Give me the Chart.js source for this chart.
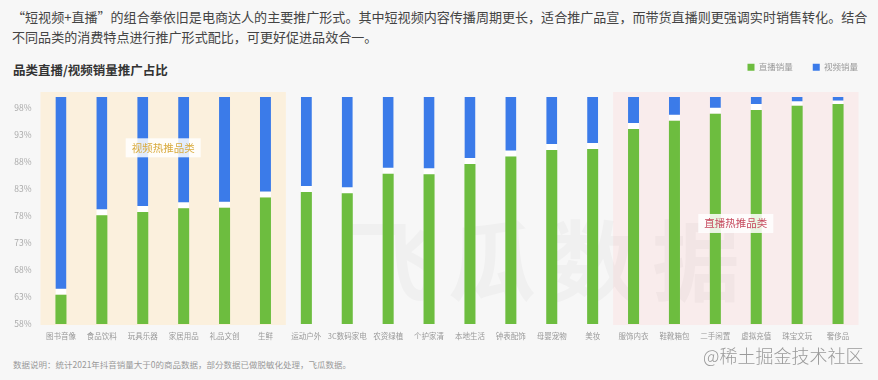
<!DOCTYPE html>
<html lang="zh">
<head>
<meta charset="utf-8">
<script src="https://cdn.jsdelivr.net/npm/chart.js@4/dist/chart.umd.min.js"></script>
<style>
  html, body { margin: 0; padding: 0; }
  body {
    width: 878px; height: 380px; overflow: hidden; position: relative;
    background: #f7f7f7;
    font-family: "Noto Sans CJK SC", "Noto Sans", sans-serif;
  }
  .intro {
    position: absolute; left: 12px; top: 7px; width: 860px;
    font-size: 13.05px; line-height: 20px; color: #444; white-space: nowrap;
  }
  .title {
    position: absolute; left: 13px; top: 62px;
    font-size: 12.5px; line-height: 16px; font-weight: bold; color: #333;
  }
  .note {
    position: absolute; left: 13px; top: 358px;
    font-size: 8.5px; line-height: 12px; color: #999;
  }
  .mark {
    position: absolute; left: 703px; top: 343px;
    font-size: 18px; line-height: 24px; color: #9a9a9a; font-weight: 300;
  }
  #wrap { position: absolute; left: 0; top: 43px; width: 878px; height: 306px; }
</style>
</head>
<body>
<div class="intro">“短视频+直播”的组合拳依旧是电商达人的主要推广形式。其中短视频内容传播周期更长，适合推广品宣，而带货直播则更强调实时销售转化。结合<br>不同品类的消费特点进行推广形式配比，可更好促进品效合一。</div>
<div class="title">品类直播/视频销量推广占比</div>
<div id="wrap"><canvas id="chart"></canvas></div>
<div class="note">数据说明：统计2021年抖音销量大于0的商品数据，部分数据已做脱敏化处理，飞瓜数据。</div>
<div class="mark">@稀土掘金技术社区</div>
<script>
// 数据
const categories = ['图书音像', '食品饮料', '玩具乐器', '家居用品', '礼品文创', '生鲜', '运动户外', '3C数码家电', '农资绿植', '个护家清',
    '本地生活', '钟表配饰', '母婴宠物', '美妆', '服饰内衣', '鞋靴箱包', '二手闲置', '虚拟充值', '珠宝文玩', '奢侈品'];
const liveShare = [63.4, 78.1, 78.7, 79.4, 79.5, 81.4, 82.4, 82.2, 85.8, 85.7, 87.6, 89.0, 90.2, 90.4, 94.1, 95.6, 96.9, 97.6, 98.4, 98.7];
const videoShare = [36.6, 21.9, 21.3, 20.6, 20.5, 18.6, 17.6, 17.8, 14.2, 14.3, 12.4, 11.0, 9.8, 9.6, 5.9, 4.4, 3.1, 2.4, 1.6, 1.3];
const yTicks = [58, 63, 68, 73, 78, 83, 88, 93, 98];
const videoHot = { from: '图书音像', to: '生鲜', label: '视频热推品类' };
const liveHot = { from: '服饰内衣', to: '奢侈品', label: '直播热推品类' };

Chart.defaults.font.family = '"Noto Sans CJK SC", "Noto Sans", sans-serif';

// 背景色块 + 水印
const bands = {
    id: 'bands',
    beforeDatasetsDraw(chart) {
        const { ctx, chartArea, scales: { x } } = chart;
        const half = (x.getPixelForValue(1) - x.getPixelForValue(0)) / 2;
        const fill = (band, color) => {
            const l = x.getPixelForValue(categories.indexOf(band.from)) - half;
            const r = x.getPixelForValue(categories.indexOf(band.to)) + half;
            ctx.fillStyle = color;
            ctx.fillRect(l, chartArea.top - 5, r - l, chartArea.bottom - chartArea.top + 6);
        };
        ctx.save();
        fill(videoHot, '#fbf0dd');
        fill(liveHot, '#f9ecec');
        // 飞瓜水印
        ctx.fillStyle = 'rgba(0,0,0,0.028)';
        ctx.font = 'bold 88px "Noto Sans CJK SC"';
        ctx.textBaseline = 'middle';
        ['飞', '瓜', '数', '据'].forEach((c, i) => ctx.fillText(c, 346 + i * 102, 218));
        ctx.restore();
    },
    afterDatasetsDraw(chart) {
        const { ctx, scales: { x, y } } = chart;
        const tag = (band, val, color) => {
            const cx = (x.getPixelForValue(categories.indexOf(band.from)) + x.getPixelForValue(categories.indexOf(band.to))) / 2;
            const cy = y.getPixelForValue(val);
            ctx.font = '10.5px "Noto Sans CJK SC"';
            const w = ctx.measureText(band.label).width + 12;
            ctx.fillStyle = 'rgba(255,255,255,0.85)';
            ctx.fillRect(cx - w / 2, cy - 9.5, w, 19);
            ctx.fillStyle = color;
            ctx.textAlign = 'center';
            ctx.textBaseline = 'middle';
            ctx.fillText(band.label, cx, cy);
        };
        ctx.save();
        tag(videoHot, 90.6, '#d9ab3f');
        tag(liveHot, 76.6, '#c64a5e');
        ctx.restore();
    }
};

// 图例下方留白
const legendGap = {
    id: 'legendGap',
    beforeInit(chart) {
        const fit = chart.legend.fit;
        chart.legend.fit = function () {
            fit.bind(chart.legend)();
            this.height += 15.5;
        };
    }
};

new Chart(document.getElementById('chart'), {
    type: 'bar',
    data: {
        labels: categories,
        datasets: [
            {
                label: '直播销量',
                data: liveShare,
                backgroundColor: '#6dbd3f',
                barPercentage: 0.27,
                categoryPercentage: 1
            },
            {
                label: '视频销量',
                data: videoShare,
                backgroundColor: '#3b7be9',
                borderColor: '#ffffff',
                borderWidth: { top: 0, right: 0, bottom: 6, left: 0 },
                borderSkipped: false,
                barPercentage: 0.27,
                categoryPercentage: 1
            }
        ]
    },
    options: {
        responsive: true,
        maintainAspectRatio: false,
        animation: false,
        layout: { padding: { left: 0, right: 0, top: 0, bottom: 0 } },
        plugins: {
            tooltip: { enabled: false },
            legend: {
                position: 'top',
                align: 'end',
                labels: {
                    boxWidth: 7,
                    boxHeight: 7,
                    padding: 20,
                    color: '#999',
                    font: { size: 8.5 },
                    generateLabels(chart) {
                        const items = Chart.defaults.plugins.legend.labels.generateLabels(chart);
                        items.forEach(i => { i.lineWidth = 0; i.strokeStyle = 'transparent'; });
                        return items;
                    }
                }
            }
        },
        scales: {
            x: {
                stacked: true,
                grid: { display: false, drawTicks: false },
                border: { display: false },
                ticks: { color: '#999', font: { size: 7.5 }, padding: 8, maxRotation: 0, autoSkip: false }
            },
            y: {
                stacked: true,
                min: 58,
                max: 100,
                grid: { display: false, drawTicks: false },
                border: { display: false },
                afterBuildTicks: scale => { scale.ticks = yTicks.map(v => ({ value: v })); },
                afterFit: scale => { scale.width = 40.5; },
                ticks: { color: '#aaa', font: { size: 8.5 }, padding: 9, callback: v => v + '%' }
            },
            yR: {
                position: 'right',
                grid: { display: false, drawTicks: false },
                border: { display: false },
                ticks: { display: false },
                afterFit: scale => { scale.width = 19.5; }
            }
        }
    },
    plugins: [bands, legendGap]
});
</script>
</body>
</html>
